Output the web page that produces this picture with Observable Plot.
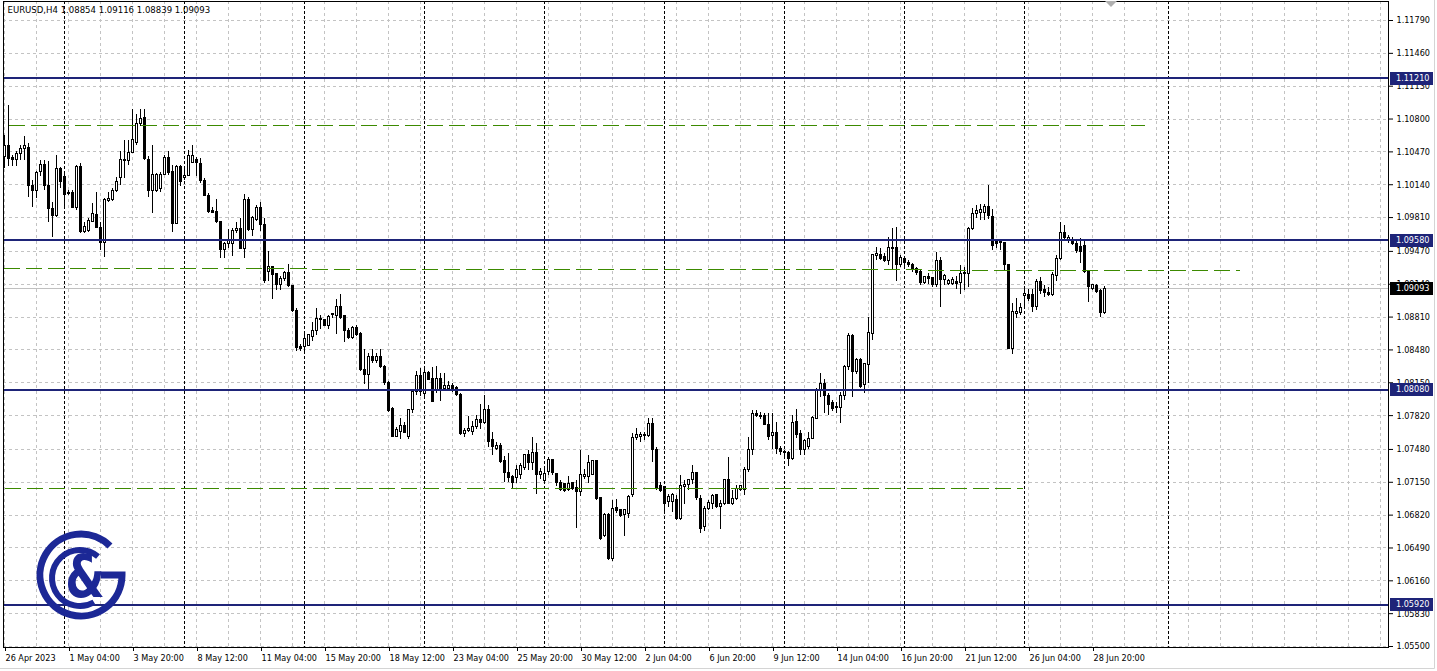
<!DOCTYPE html>
<html><head><meta charset="utf-8">
<script src="https://cdn.jsdelivr.net/npm/d3@7"></script>
<script src="https://cdn.jsdelivr.net/npm/@observablehq/plot@0.6"></script>
<style>
html,body{margin:0;padding:0;background:#fff;overflow:hidden}
#chart{width:1437px;height:671px}
</style></head><body><div id="chart"></div>
<script>
// ---------- DATA ----------
const headerText = "EURUSD,H4 1.08854 1.09116 1.08839 1.09093";
const lastPrice = 1.09093;
const opens = [
1.1042,1.1053,1.1041,1.1039,1.1045,1.1050,1.1051,1.1013,1.1008,1.1027,
1.1034,1.1013,1.0990,1.0983,1.1030,1.1022,1.1006,1.1006,1.0991,1.1032,
1.0966,1.0968,1.0977,1.0984,1.0971,1.0955,1.0998,1.0999,1.1008,1.1021,
1.1038,1.1038,1.1046,1.1056,1.1075,1.1081,1.1039,1.1008,1.1008,1.1010,
1.1024,1.1041,1.1027,1.0975,1.1032,1.1021,1.1023,1.1036,1.1039,1.1035,
1.1018,1.1003,1.0988,1.0987,1.0977,1.0948,1.0954,1.0954,1.0967,1.0970,
1.0949,1.0999,1.0969,1.0979,1.0991,1.0974,1.0926,1.0931,1.0924,1.0913,
1.0919,1.0925,1.0912,1.0887,1.0851,1.0851,1.0852,1.0861,1.0867,1.0878,
1.0878,1.0872,1.0884,1.0882,1.0891,1.0882,1.0867,1.0860,1.0870,1.0864,
1.0828,1.0823,1.0841,1.0837,1.0841,1.0831,1.0815,1.0789,1.0761,1.0766,
1.0772,1.0761,1.0788,1.0806,1.0822,1.0804,1.0825,1.0819,1.0808,1.0819,
1.0809,1.0809,1.0812,1.0810,1.0803,1.0764,1.0767,1.0766,1.0771,1.0778,
1.0775,1.0788,1.0757,1.0748,1.0751,1.0736,1.0724,1.0720,1.0719,1.0722,
1.0729,1.0742,1.0734,1.0744,1.0722,1.0716,1.0725,1.0737,1.0723,1.0714,
1.0713,1.0707,1.0714,1.0709,1.0705,1.0720,1.0720,1.0722,1.0736,1.0699,
1.0661,1.0682,1.0638,1.0689,1.0687,1.0682,1.0683,1.0702,1.0760,1.0761,
1.0763,1.0762,1.0774,1.0747,1.0711,1.0710,1.0695,1.0695,1.0697,1.0678,
1.0710,1.0712,1.0717,1.0724,1.0698,1.0670,1.0688,1.0693,1.0702,1.0690,
1.0693,1.0717,1.0693,1.0698,1.0707,1.0707,1.0727,1.0747,1.0784,1.0782,
1.0782,1.0773,1.0762,1.0765,1.0748,1.0745,1.0744,1.0738,1.0776,1.0764,
1.0747,1.0750,1.0759,1.0779,1.0807,1.0814,1.0802,1.0795,1.0790,1.0790,
1.0802,1.0831,1.0862,1.0826,1.0838,1.0813,1.0833,1.0864,1.0942,1.0943,
1.0941,1.0937,1.0950,1.0950,1.0933,1.0939,1.0935,1.0933,1.0929,1.0926,
1.0915,1.0921,1.0920,1.0913,1.0937,1.0918,1.0914,1.0914,1.0916,1.0915,
1.0924,1.0924,1.0970,1.0985,1.0986,1.0986,1.0992,1.0982,1.0956,1.0956,
1.0955,1.0933,1.0849,1.0884,1.0885,1.0902,1.0903,1.0903,1.0891,1.0916,
1.0908,1.0905,1.0903,1.0922,1.0939,1.0965,1.0957,1.0958,1.0954,1.0951,
1.0952,1.0927,1.0909,1.0912,1.0907,1.08854];
const highs = [
1.1063,1.1094,1.1043,1.1047,1.1053,1.1062,1.1055,1.1018,1.1027,1.1038,
1.1038,1.1037,1.0996,1.1043,1.1031,1.1024,1.1008,1.1008,1.1033,1.1035,
1.0976,1.0980,1.0995,1.1006,1.0976,1.1000,1.1006,1.1010,1.1021,1.1047,
1.1058,1.1058,1.1090,1.1085,1.1090,1.1090,1.1042,1.1053,1.1025,1.1026,
1.1043,1.1047,1.1033,1.1033,1.1033,1.1030,1.1048,1.1053,1.1041,1.1040,
1.1020,1.1005,1.0991,1.0999,1.0977,1.0956,1.0969,1.0970,1.0976,1.0980,
1.1004,1.1001,1.0982,1.0993,1.0996,1.0980,1.0947,1.0932,1.0925,1.0922,
1.0927,1.0934,1.0913,1.0890,1.0853,1.0863,1.0864,1.0876,1.0890,1.0883,
1.0879,1.0883,1.0884,1.0899,1.0904,1.0882,1.0870,1.0872,1.0873,1.0866,
1.0848,1.0844,1.0848,1.0844,1.0848,1.0832,1.0816,1.0790,1.0770,1.0779,
1.0775,1.0788,1.0808,1.0826,1.0829,1.0829,1.0826,1.0830,1.0831,1.0824,
1.0824,1.0816,1.0814,1.0811,1.0804,1.0769,1.0781,1.0776,1.0782,1.0793,
1.0802,1.0792,1.0765,1.0755,1.0754,1.0741,1.0744,1.0722,1.0732,1.0734,
1.0743,1.0747,1.0760,1.0754,1.0729,1.0729,1.0740,1.0738,1.0724,1.0717,
1.0713,1.0721,1.0715,1.0717,1.0747,1.0728,1.0742,1.0737,1.0737,1.0700,
1.0684,1.0684,1.0697,1.0698,1.0688,1.0688,1.0702,1.0764,1.0769,1.0765,
1.0765,1.0779,1.0779,1.0750,1.0715,1.0711,1.0703,1.0704,1.0702,1.0722,
1.0717,1.0718,1.0732,1.0725,1.0702,1.0691,1.0697,1.0703,1.0703,1.0697,
1.0718,1.0740,1.0707,1.0712,1.0712,1.0730,1.0760,1.0787,1.0787,1.0785,
1.0784,1.0784,1.0784,1.0775,1.0751,1.0747,1.0746,1.0782,1.0788,1.0767,
1.0758,1.0765,1.0781,1.0809,1.0824,1.0818,1.0804,1.0797,1.0795,1.0805,
1.0832,1.0865,1.0864,1.0839,1.0839,1.0834,1.0881,1.0944,1.0951,1.0950,
1.0945,1.0961,1.0970,1.0971,1.0943,1.0940,1.0938,1.0935,1.0931,1.0928,
1.0922,1.0925,1.0921,1.0946,1.0941,1.0924,1.0919,1.0921,1.0922,1.0933,
1.0931,1.0971,1.0990,1.0993,1.0994,1.0994,1.1013,1.0989,1.0958,1.0958,
1.0956,1.0933,1.0895,1.0900,1.0895,1.0910,1.0909,1.0909,1.0919,1.0921,
1.0913,1.0911,1.0926,1.0943,1.0976,1.0973,1.0963,1.0961,1.0958,1.0960,
1.0958,1.0928,1.0914,1.0914,1.0909,1.09116];
const lows = [
1.1030,1.1032,1.1032,1.1032,1.1038,1.1038,1.1001,1.0991,1.1000,1.1022,
1.1008,1.0976,1.0961,1.0981,1.1010,1.0990,1.1003,1.0990,1.0988,1.0965,
1.0965,1.0966,1.0976,1.0970,1.0948,1.0941,1.0996,1.0997,1.1006,1.1013,
1.1020,1.1033,1.1045,1.1053,1.1072,1.1038,1.1001,1.0985,1.1006,1.1006,
1.1023,1.1023,1.0966,1.0974,1.1012,1.1018,1.1022,1.1035,1.1022,1.1015,
1.1002,1.0985,1.0985,1.0975,1.0940,1.0940,1.0950,1.0942,1.0965,1.0949,
1.0940,1.0967,1.0962,1.0977,1.0967,1.0915,1.0917,1.0899,1.0908,1.0908,
1.0917,1.0911,1.0886,1.0846,1.0846,1.0843,1.0851,1.0856,1.0862,1.0869,
1.0872,1.0869,1.0880,1.0863,1.0879,1.0855,1.0858,1.0858,1.0861,1.0826,
1.0813,1.0807,1.0834,1.0834,1.0829,1.0812,1.0785,1.0760,1.0760,1.0758,
1.0765,1.0758,1.0784,1.0802,1.0801,1.0801,1.0817,1.0795,1.0804,1.0796,
1.0807,1.0807,1.0805,1.0801,1.0762,1.0760,1.0765,1.0762,1.0768,1.0768,
1.0773,1.0750,1.0742,1.0747,1.0734,1.0715,1.0715,1.0709,1.0714,1.0718,
1.0727,1.0727,1.0727,1.0703,1.0718,1.0715,1.0722,1.0722,1.0711,1.0706,
1.0705,1.0706,1.0707,1.0669,1.0701,1.0718,1.0714,1.0722,1.0697,1.0657,
1.0660,1.0636,1.0635,1.0684,1.0680,1.0661,1.0679,1.0700,1.0757,1.0755,
1.0757,1.0760,1.0735,1.0707,1.0705,1.0685,1.0690,1.0685,1.0677,1.0677,
1.0693,1.0707,1.0713,1.0697,1.0664,1.0666,1.0687,1.0688,1.0689,1.0668,
1.0692,1.0693,1.0692,1.0697,1.0706,1.0702,1.0725,1.0742,1.0780,1.0778,
1.0772,1.0757,1.0748,1.0743,1.0742,1.0739,1.0731,1.0737,1.0759,1.0742,
1.0742,1.0748,1.0758,1.0778,1.0800,1.0784,1.0782,1.0786,1.0784,1.0774,
1.0797,1.0827,1.0800,1.0823,1.0809,1.0804,1.0814,1.0857,1.0938,1.0938,
1.0936,1.0933,1.0928,1.0917,1.0931,1.0932,1.0931,1.0926,1.0923,1.0913,
1.0914,1.0914,1.0911,1.0911,1.0891,1.0913,1.0913,1.0913,1.0909,1.0904,
1.0908,1.0911,1.0968,1.0980,1.0978,1.0978,1.0979,1.0948,1.0950,1.0948,
1.0928,1.0848,1.0843,1.0880,1.0883,1.0890,1.0897,1.0886,1.0888,1.0904,
1.0901,1.0902,1.0902,1.0917,1.0938,1.0958,1.0955,1.0953,1.0945,1.0935,
1.0925,1.0896,1.0908,1.0905,1.0881,1.08839];
const closes = [
1.1053,1.1040,1.1039,1.1045,1.1050,1.1053,1.1013,1.1008,1.1026,1.1034,
1.1013,1.0990,1.0983,1.1030,1.1017,1.1004,1.1005,1.0991,1.1032,1.0966,
1.0972,1.0978,1.0985,1.0971,1.0955,1.0999,1.1000,1.1008,1.1017,1.1039,
1.1039,1.1046,1.1059,1.1075,1.1080,1.1040,1.1008,1.1024,1.1024,1.1024,
1.1041,1.1026,1.0975,1.1032,1.1017,1.1023,1.1043,1.1043,1.1036,1.1018,
1.1003,1.0987,1.0986,1.0977,1.0948,1.0954,1.0957,1.0968,1.0970,1.0949,
1.0999,1.0969,1.0981,1.0991,1.0974,1.0917,1.0931,1.0923,1.0913,1.0919,
1.0925,1.0912,1.0887,1.0850,1.0849,1.0859,1.0863,1.0867,1.0879,1.0879,
1.0872,1.0881,1.0883,1.0891,1.0880,1.0867,1.0860,1.0870,1.0863,1.0828,
1.0823,1.0841,1.0837,1.0841,1.0831,1.0815,1.0787,1.0761,1.0768,1.0772,
1.0765,1.0788,1.0806,1.0822,1.0806,1.0825,1.0818,1.0796,1.0819,1.0808,
1.0812,1.0812,1.0809,1.0803,1.0764,1.0767,1.0769,1.0771,1.0778,1.0775,
1.0788,1.0755,1.0750,1.0751,1.0735,1.0724,1.0719,1.0714,1.0727,1.0731,
1.0742,1.0734,1.0744,1.0722,1.0725,1.0723,1.0737,1.0724,1.0714,1.0707,
1.0706,1.0713,1.0708,1.0705,1.0722,1.0722,1.0734,1.0736,1.0698,1.0658,
1.0682,1.0638,1.0688,1.0686,1.0681,1.0687,1.0700,1.0760,1.0763,1.0763,
1.0762,1.0774,1.0747,1.0708,1.0706,1.0693,1.0700,1.0702,1.0678,1.0711,
1.0712,1.0717,1.0724,1.0699,1.0668,1.0688,1.0694,1.0701,1.0690,1.0693,
1.0717,1.0693,1.0698,1.0708,1.0711,1.0727,1.0747,1.0784,1.0782,1.0781,
1.0773,1.0761,1.0765,1.0748,1.0745,1.0744,1.0738,1.0775,1.0763,1.0747,
1.0756,1.0759,1.0780,1.0807,1.0814,1.0802,1.0793,1.0789,1.0791,1.0802,
1.0831,1.0862,1.0826,1.0838,1.0811,1.0834,1.0865,1.0943,1.0944,1.0939,
1.0937,1.0950,1.0949,1.0933,1.0940,1.0935,1.0933,1.0928,1.0925,1.0915,
1.0921,1.0919,1.0913,1.0937,1.0918,1.0922,1.0917,1.0918,1.0914,1.0924,
1.0925,1.0970,1.0985,1.0988,1.0989,1.0992,1.0983,1.0952,1.0954,1.0955,
1.0933,1.0849,1.0886,1.0886,1.0890,1.0904,1.0899,1.0891,1.0916,1.0907,
1.0905,1.0903,1.0923,1.0939,1.0965,1.0960,1.0960,1.0954,1.0947,1.0946,
1.0926,1.0911,1.0913,1.0906,1.0885,1.09093];

const dateLabels = ["26 Apr 2023","1 May 04:00","3 May 20:00","8 May 12:00","11 May 04:00","15 May 20:00","18 May 12:00","23 May 04:00","25 May 20:00","30 May 12:00","2 Jun 04:00","6 Jun 20:00","9 Jun 12:00","14 Jun 04:00","16 Jun 20:00","21 Jun 12:00","26 Jun 04:00","28 Jun 20:00"];
const dateLabelBars = [0,16,32,48,64,80,96,112,128,144,160,176,192,208,224,240,256,272];
const priceTicks = [1.11790,1.11460,1.11130,1.10800,1.10470,1.10140,1.09810,1.09470,1.09140,1.08810,1.08480,1.08150,1.07820,1.07480,1.07150,1.06820,1.06490,1.06160,1.05830,1.05500];
const levelPrices = [1.11210,1.09580,1.08080,1.05920];
const separatorBars = [15,45,75,105,135,165,195,225,255];
const verticalLineBars = [291];
// trend lines (green dashed): start bar, start price, end bar, end price
const trendStartBar = [1, 0, 0];
const trendStartPrice = [1.10735, 1.09298, 1.07087];
const trendEndBar = [285, 309, 254.5];
const trendEndPrice = [1.10735, 1.09278, 1.07087];

// ---------- BUILD ----------
const W = 1437, H = 671;
const mL = 3, mR = 49, mT = 1, mB = 24;
const bars = opens.map((o, i) => ({i, o, h: highs[i], l: lows[i], c: closes[i]}));
const dojis = bars.filter(d => d.o === d.c);
const trends = trendStartBar.map((b, k) => ({x1: b, y1: trendStartPrice[k], x2: trendEndBar[k], y2: trendEndPrice[k]}));
const gridBars = d3.range(0, 346, 8);
const labelOf = new Map(dateLabelBars.map((b, k) => [b, dateLabels[k]]));

const NAVY = "#1e2478";
const GREEN = "#3c8a00";
const GRID = "#c3c3c3";

const plot = Plot.plot({
  width: W, height: H,
  marginLeft: mL, marginRight: mR, marginTop: mT, marginBottom: mB,
  x: {domain: [(mL - 4) / 4, (W - mR - 4) / 4], axis: null},
  y: {domain: [1.05490, 1.11981], axis: null},
  color: {type: "identity"},
  style: {fontFamily: "'DejaVu Sans Condensed','DejaVu Sans',sans-serif", fontSize: "9px", background: "#fff", color: "#000", overflow: "visible"},
  marks: [
    Plot.ruleX(gridBars, {x: d => d, stroke: GRID, strokeDasharray: "3,3", shapeRendering: "crispEdges"}),
    Plot.ruleY(priceTicks, {y: d => d, stroke: GRID, strokeDasharray: "3,3", shapeRendering: "crispEdges"}),
    Plot.ruleX(separatorBars, {x: d => d, stroke: "#000", strokeDasharray: "3,2", shapeRendering: "crispEdges"}),
    Plot.ruleX(verticalLineBars, {x: d => d, stroke: "#000", strokeDasharray: "3,2", shapeRendering: "crispEdges"}),
    Plot.ruleY([lastPrice], {y: d => d, stroke: "#c0c0c0", shapeRendering: "crispEdges"}),
    Plot.ruleX(bars, {x: "i", y1: "l", y2: "h", stroke: "#000", shapeRendering: "crispEdges"}),
    Plot.rect(bars, {x1: d => d.i - 0.25, x2: d => d.i + 0.25, y1: "o", y2: "c",
      fill: d => d.c >= d.o ? "#ffffff" : "#000000", stroke: "#000", shapeRendering: "crispEdges"}),
    Plot.ruleY(dojis, {y: "o", x1: d => d.i - 0.375, x2: d => d.i + 0.375, stroke: "#000", shapeRendering: "crispEdges"}),
    Plot.ruleY(levelPrices, {y: d => d, stroke: NAVY, strokeWidth: 2, shapeRendering: "crispEdges"}),
    Plot.link(trends, {x1: "x1", y1: "y1", x2: "x2", y2: "y2", stroke: GREEN, strokeDasharray: "16,6", shapeRendering: "crispEdges"}),
    Plot.frame({stroke: "#000"}),
    Plot.axisY({anchor: "right", ticks: priceTicks, tickFormat: d => d.toFixed(5), tickSize: 4, tickPadding: 4, textAnchor: "start"}),
    Plot.axisX({anchor: "bottom", ticks: dateLabelBars, tickFormat: d => labelOf.get(d), tickSize: 4, tickPadding: 3, textAnchor: "start", dx: 1}),
    Plot.text([headerText], {text: d => d, frameAnchor: "top-left", textAnchor: "start", lineAnchor: "top", dx: 4, dy: 5, fill: "#000", fontSize: 9.5})
  ]
});

const svg = d3.select(plot);
const ys = plot.scale("y");
const right = W - mR;
const g = svg.append("g").attr("text-anchor", "start");
function box(v, color) {
  const yy = Math.round(ys.apply(v));
  g.append("rect").attr("x", right + 2).attr("y", yy - 6).attr("width", 43).attr("height", 13).attr("fill", color);
  g.append("text").attr("x", right + 8).attr("y", yy).attr("dy", "0.32em").attr("text-anchor", "start").attr("fill", "#fff").text(v.toFixed(5));
}
levelPrices.forEach(v => box(v, NAVY));
box(lastPrice, "#000");

// window edges
svg.append("path").attr("d", `M${W - 2.5},0V${H - 2.5}H0`).attr("fill", "none").attr("stroke", "#d4d4d4");

// chart shift marker
svg.append("path").attr("d", "M1105,1L1117,1L1111,7Z").attr("fill", "#b0b0b0");

// logo
const logo = svg.append("g").attr("fill", "none").attr("stroke", "#1c2896");
const cx = 81, cy = 575, r1 = 41, r2 = 28, a1 = -45 * Math.PI / 180;
logo.append("path").attr("stroke-width", 7)
  .attr("d", `M${cx + r1 * Math.cos(a1)},${cy + r1 * Math.sin(a1)} A${r1},${r1} 0 1 0 ${cx + r1},${cy} L${cx + 20},${cy}`);
const b0 = -50 * Math.PI / 180, b1 = 60 * Math.PI / 180, cx2 = 80, cy2 = 578;
logo.append("path").attr("stroke-width", 6)
  .attr("d", `M${cx2 + r2 * Math.cos(b0)},${cy2 + r2 * Math.sin(b0)} A${r2},${r2} 0 1 0 ${cx2 + r2 * Math.cos(b1)},${cy2 + r2 * Math.sin(b1)}`);
svg.append("text").attr("transform", "translate(85,597) scale(0.78,1)")
  .attr("text-anchor", "middle").attr("font-family", "'DejaVu Sans',sans-serif").attr("font-weight", "bold")
  .attr("font-size", 58).attr("fill", "#1c2896").text("&");

document.getElementById("chart").appendChild(plot);
</script></body></html>
